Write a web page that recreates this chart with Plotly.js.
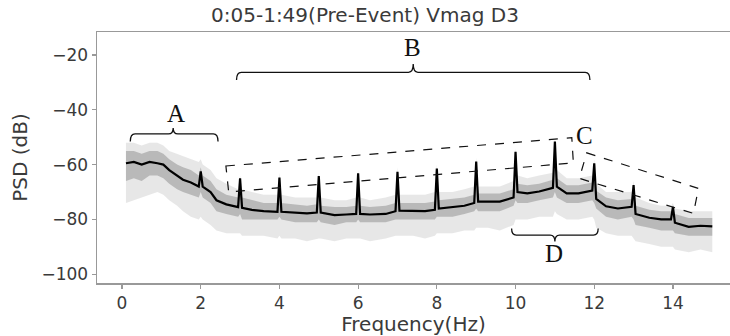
<!DOCTYPE html>
<html><head><meta charset="utf-8">
<script src="https://cdn.plot.ly/plotly-3.0.1.min.js"></script>
<style>html,body{margin:0;padding:0;background:#fff;overflow:hidden}#chart{width:730px;height:336px}</style>
</head><body><div id="chart"></div>
<script>
// Frequency grid (Hz)
const freq = [0.1,0.3,0.5,0.7,0.9,1.05,1.2,1.4,1.55,1.75,1.95,2.0,2.05,2.25,2.4,2.65,2.95,3.0,3.05,3.3,3.6,3.95,4.0,4.05,4.4,4.7,4.95,5.0,5.05,5.4,5.7,5.95,6.0,6.05,6.3,6.7,6.95,7.0,7.05,7.4,7.7,7.95,8.0,8.05,8.4,8.7,8.95,9.0,9.05,9.3,9.6,9.95,10.0,10.05,10.3,10.6,10.95,11.0,11.05,11.3,11.6,11.95,12.0,12.05,12.3,12.6,12.95,13.0,13.05,13.4,13.7,13.95,14.0,14.05,14.4,14.7,15.0];
// Mean PSD (dB)
const psdMean = [-59.5,-59,-60,-59,-59.5,-60,-62,-64,-65.5,-66.5,-68,-62.5,-68,-70,-73,-74.5,-75.5,-65,-75.8,-76.5,-77,-77.2,-64.7,-77.2,-77.5,-77.8,-77.5,-64.2,-77.5,-78.4,-78.2,-78,-63.2,-78,-78.2,-78,-77,-62.6,-76.8,-76.8,-77,-76.5,-61.4,-76,-75.6,-75,-74,-58.9,-73.5,-73.5,-73.5,-72,-55.3,-70,-70.5,-69.8,-68.5,-51.6,-68,-70.5,-70.5,-69.5,-59.5,-72.5,-75.2,-76,-75.4,-67.5,-78,-79.4,-80,-80,-75.4,-81.2,-82.7,-82.3,-82.5];
// Spread of individual segments (dB)
const upperOuter = [-52,-52,-53,-52,-52,-53,-55,-56,-57,-58,-59,-58,-60,-62,-65,-67,-69,-64,-69,-70,-71,-71,-63,-71,-72,-72,-72,-63,-72,-73,-73,-72,-62,-72,-73,-72,-71,-61,-71,-71,-71,-70,-60,-70,-70,-69,-68,-57.5,-68,-68,-68,-66,-54,-64,-65,-64,-63,-50.5,-62,-65,-65,-64,-58,-67,-70,-70,-70,-66,-72,-74,-75,-75,-74,-76,-77,-77,-77];
const upperInner = [-55,-55,-56,-55,-55,-56,-58,-60,-61,-62,-64,-61,-64,-66,-69,-71,-72,-66,-72,-73,-74,-74,-66,-74,-74.5,-75,-74.5,-65,-75,-75.5,-75.5,-75,-64,-75,-75.5,-75,-74,-63.5,-74,-74,-74,-73.5,-62.5,-73,-72.5,-72,-71,-60,-70.5,-70.5,-70.5,-69,-56.5,-67,-67.5,-67,-65.5,-53,-65,-67.5,-67.5,-66.5,-60.5,-69.5,-72,-73,-72.5,-68.5,-75,-76.5,-77,-77,-76,-78,-79.5,-79.5,-79.5];
const lowerInner = [-66,-65,-66,-64,-64,-65,-67,-69,-70,-71,-72,-70,-72,-74,-77,-78,-79,-78,-80,-80,-80,-80,-79,-80,-81,-81,-81,-80,-81,-82,-81,-81,-80,-81,-81,-81,-80,-80,-80,-80,-80,-80,-79,-79,-79,-78,-77,-76,-77,-77,-77,-75,-73,-74,-74,-73,-72,-70,-72,-74,-74,-73,-74,-76,-79,-80,-79,-80,-82,-83,-84,-84,-84,-85,-86,-86,-86];
const lowerOuter = [-74,-73,-72,-71,-70,-71,-73,-75,-77,-79,-80,-79,-80,-82,-84,-85,-85,-85,-86,-86,-86,-87,-86,-87,-87,-88,-87,-87,-87,-88,-87,-87,-87,-87,-88,-87,-86,-86,-86,-86,-87,-86,-85,-85,-85,-84,-84,-83,-83,-83,-84,-82,-80,-80,-80,-79,-79,-77,-78,-80,-80,-79,-80,-83,-85,-86,-86,-87,-88,-89,-90,-90,-90,-91,-92,-91,-92];
const xTicks = [0,2,4,6,8,10,12,14];
const yTicks = [-100,-80,-60,-40,-20];
const yTickText = ["\u2212100","\u221280","\u221260","\u221240","\u221220"];

// Annotation geometry (data units)
const braces = [
  {x0:0.21, x1:2.44, xt:1.30, yEnd:-51.6, yMid:-48.8, yTip:-46.6},
  {x0:2.91, x1:11.89, xt:7.40, yEnd:-29.1, yMid:-26.3, yTip:-23.3},
  {x0:9.90, x1:12.10, xt:11.0, yEnd:-83.3, yMid:-85.7, yTip:-88.1}
];
const labels = [
  {t:"A", x:1.38, y:-41.3},
  {t:"B", x:7.39, y:-17.3},
  {t:"C", x:11.76, y:-49.2},
  {t:"D", x:10.99, y:-92.4}
];
const boxes = [
  [[2.64,-60.5],[11.43,-50.2],[11.47,-59.4],[2.71,-70.0]],
  [[11.81,-55.7],[14.65,-68.7],[14.52,-77.8],[11.62,-65.0]]
];

function bracePath(b){
  const d = 0.12;
  return `M ${b.x0},${b.yEnd} Q ${b.x0},${b.yMid} ${b.x0+d},${b.yMid} L ${b.xt-d},${b.yMid} Q ${b.xt},${b.yMid} ${b.xt},${b.yTip} Q ${b.xt},${b.yMid} ${b.xt+d},${b.yMid} L ${b.x1-d},${b.yMid} Q ${b.x1},${b.yMid} ${b.x1},${b.yEnd}`;
}
const shapes = [];
braces.forEach(b => shapes.push({type:'path', xref:'x', yref:'y', path:bracePath(b), line:{color:'#111', width:1.3}}));
boxes.forEach(p => shapes.push({type:'path', xref:'x', yref:'y',
  path:'M ' + p.map(q => q[0]+','+q[1]).join(' L ') + ' Z',
  line:{color:'#111', width:1.2, dash:'dash'}}));

const traces = [
  {x:freq, y:lowerOuter, mode:'lines', line:{width:0, color:'rgba(0,0,0,0)'}, hoverinfo:'skip', showlegend:false},
  {x:freq, y:upperOuter, mode:'lines', line:{width:0, color:'rgba(0,0,0,0)'}, fill:'tonexty', fillcolor:'rgba(170,170,170,0.28)', hoverinfo:'skip', showlegend:false},
  {x:freq, y:lowerInner, mode:'lines', line:{width:0, color:'rgba(0,0,0,0)'}, hoverinfo:'skip', showlegend:false},
  {x:freq, y:upperInner, mode:'lines', line:{width:0, color:'rgba(0,0,0,0)'}, fill:'tonexty', fillcolor:'rgba(110,110,110,0.38)', hoverinfo:'skip', showlegend:false},
  {x:freq, y:psdMean, mode:'lines', line:{width:2.2, color:'#000'}, showlegend:false}
];

const layout = {
  width:730, height:336,
  margin:{l:97, r:0, t:32, b:53},
  paper_bgcolor:'#fff', plot_bgcolor:'#fff',
  font:{family:'DejaVu Sans', color:'#3a3a3a', size:17},
  title:{text:'0:05-1:49(Pre-Event) Vmag D3', font:{size:20, color:'#3a3a3a'}, x:0.5, xanchor:'center', y:0.955, yanchor:'middle'},
  xaxis:{range:[-0.636,15.45], tickvals:xTicks, ticks:'outside', ticklen:4, tickcolor:'#999', tickwidth:1.2,
    showline:true, linecolor:'#999', linewidth:1.5, mirror:true, showgrid:false, zeroline:false,
    title:{text:'Frequency(Hz)', font:{size:20}, standoff:4}},
  yaxis:{range:[-103.2,-11.6], tickvals:yTicks, ticktext:yTickText, ticks:'outside', ticklen:4, tickcolor:'#999', tickwidth:1.2,
    showline:true, linecolor:'#999', linewidth:1.5, showgrid:false, zeroline:false,
    title:{text:'PSD (dB)', font:{size:20}, standoff:8}},
  shapes:shapes,
  annotations: labels.map(l => ({x:l.x, y:l.y, xref:'x', yref:'y', text:l.t, showarrow:false,
    font:{family:'Liberation Serif', size:25, color:'#111'}})),
  showlegend:false
};
Plotly.newPlot('chart', traces, layout, {displayModeBar:false, staticPlot:true});
</script></body></html>
